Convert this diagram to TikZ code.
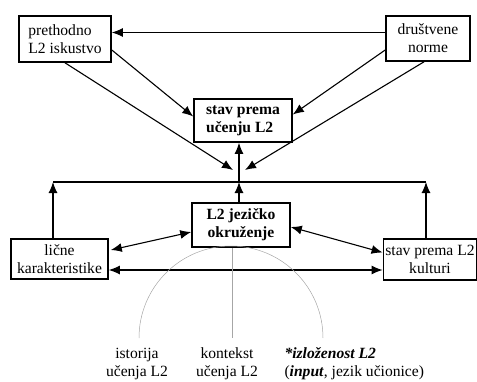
\documentclass[tikz,border=0pt]{standalone}
\usepackage{fontspec}
\setmainfont{Liberation Serif}
\usetikzlibrary{calc,arrows.meta}

\begin{document}
\begin{tikzpicture}[x=1pt,y=-1pt,
  box/.style={draw,line width=1.6pt,inner sep=2pt,font=\fontsize{15.6}{18}\selectfont},
  arr/.style={line width=1.1pt,-{Latex[length=11pt,width=9pt]}},
  darr/.style={line width=1.1pt,{Latex[length=11pt,width=9pt]}-{Latex[length=11pt,width=9pt]}},
  tanka/.style={gray!70,line width=0.5pt},
  lbl/.style={font=\fontsize{15.6}{18}\selectfont}]
\useasboundingbox (0,0) rectangle (477,381);

% boxes
\node[box,align=left,minimum width=92pt,minimum height=46pt] (prethodno) at (65,39) {prethodno\\L2 iskustvo};
\node[box,align=center,minimum width=84pt,minimum height=45pt] (norme) at (428,38.5) {društvene\\norme};
\node[box,align=left,minimum width=98pt,minimum height=43pt,font=\fontsize{15.6}{18}\selectfont\bfseries] (ucenje) at (243,120.5) {stav prema\\učenju L2};
\node[box,align=center,minimum width=98pt,minimum height=44pt,font=\fontsize{15.6}{18}\selectfont\bfseries] (jezik) at (241,225) {L2 jezičko\\okruženje};
\node[box,align=center,minimum width=97pt,minimum height=40pt] (licne) at (59.5,259) {lične\\karakteristike};
\node[box,align=center,minimum width=92pt,minimum height=41pt] (kulturi) at (430,259.5) {stav prema L2\\kulturi};

% hub line
\coordinate (hub) at (239,182);
\coordinate (hubL) at (53,182);
\coordinate (hubR) at (426,182);
\draw[line width=1.1pt] (hubL) -- (hubR);
\draw[arr] (hubL |- licne.north) -- (hubL);
\draw[arr] (hubR |- kulturi.north) -- (hubR);
\draw[arr] (hub |- jezik.north) -- (hub);
\draw[arr] (hub) -- (hub |- ucenje.south);

% top arrows
\coordinate (n1) at ($(norme.west)+(0,-6)$);
\draw[arr] (n1) -- (n1 -| prethodno.east);
\draw[arr] ($(prethodno.east)+(0,11)$) -- ($(ucenje.west)+(0,-4)$);
\draw[arr] ($(norme.west)+(0,11.5)$) -- ($(ucenje.east)+(0,-6)$);
\draw[arr] (prethodno.south) -- ($(hub)+(-6,-12)$);
\draw[arr] ($(norme.south)+(-4,0)$) -- ($(hub)+(6,-12)$);

% lower arrows
\draw[darr] ($(jezik.west)+(0,7)$) -- ($(licne.east)+(2,-9)$);
\draw[darr] ($(jezik.east)+(0,2)$) -- ($(kulturi.west)+(0,-7)$);
\coordinate (l1) at ($(licne.east)+(0,11)$);
\draw[darr] (l1) -- (l1 -| kulturi.west);

% thin lines
\coordinate (kb) at (232,338);
\draw[tanka] (139,338) arc[start angle=180,end angle=360,radius=92];
\draw[tanka] (kb |- jezik.south) -- (kb);

% labels
\node[lbl,align=center] (istorija) at (137,364) {istorija\\učenja L2};
\node[lbl,align=center] (kontekst) at (227,364) {kontekst\\učenja L2};
\node[lbl,align=left,anchor=west] (izlozenost) at (281,364) {\textbf{\textit{*izloženost L2}}\\(\textbf{\textit{input}}, jezik učionice)};
\end{tikzpicture}
\end{document}
